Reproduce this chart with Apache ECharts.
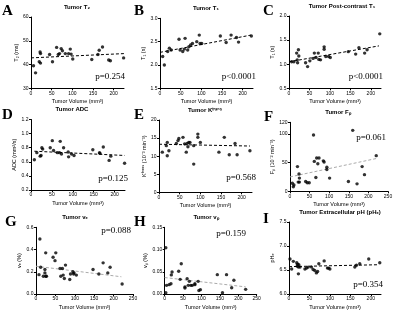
<!DOCTYPE html>
<html><head><meta charset="utf-8">
<script src="https://cdn.jsdelivr.net/npm/echarts@6/dist/echarts.min.js"></script>
<style>html,body{margin:0;padding:0;background:#fff}#c{width:400px;height:318px}</style>
</head><body><div id="c"></div>
<script>
// ---- data ----
const volA = [6,11,20,23,22,23,45,52,62,69,73,76,66,83,91,95,97,101,147,162,165,173,188,192,224];
const t2A  = [39.5,36.5,41.2,40.6,45.3,44.6,44.2,41.2,47.2,44.6,46.7,45.8,44.2,44.6,44.6,46.5,44.4,42.3,42.1,44.2,46,47.4,41.9,41.6,42.8];
const trendA = [[0,42.8],[225,44.6]];

const volB = [6.5,10.5,18.6,22.7,27,46,48.6,55,59,60.7,67,70,74,78.5,89,95,97,101,146,160,172,185,190,221];
const t1B  = [2.18,2.0,2.29,2.36,2.32,2.55,2.32,2.29,2.34,2.57,2.32,2.39,2.43,2.46,2.5,2.64,2.46,2.46,2.62,2.48,2.64,2.59,2.49,2.62];
const trendB = [[0,2.27],[220,2.64]];

const volC = [6.5,12,18.7,21,23,24,20,40.6,45.5,51,62,59,66,71.5,73,77,86,86,90,97,101,145,163,171,185,191,222];
const t1C  = [1.05,1.05,1.23,1.03,1.3,1.17,1.09,1.03,0.95,1.07,1.23,1.12,1.14,1.23,1.1,1.09,1.36,1.31,1.16,1.16,1.14,1.26,1.21,1.34,1.23,1.3,1.63];
const trendC = [[0,1.05],[220,1.38]];

const volD = [8,14,22,24,26,28,46,51,54,63,68,70,73,78,89,90,97,103,148,164,165,173,187,191,224];
const adcD = [0.63,0.73,0.68,0.69,0.8,0.78,0.8,0.9,0.76,0.73,0.73,0.89,0.71,0.8,0.74,0.67,0.71,0.69,0.77,0.73,0.72,0.81,0.62,0.68,0.58];
const trendD = [[8,0.75],[224,0.69]];

const volE = [8,17.7,20,20,24,42,46,48,58,62,66,68,70,72,75,84,84,94,94,100,145,158,170,184,189,220];
const kE   = [11.1,12.9,13.8,10.1,11.5,13.5,14.3,14.9,15.2,13.4,11.1,13.5,12.6,13.8,13.8,12.9,7.8,15.2,16.1,13.8,11.1,15.2,10.4,13.5,10.4,11.5];
const trendE = [[0,13.3],[220,12.8]];

const volF = [6,8.5,10,19,21,23,24,24,40,44,49,60,62,66,68,71,74,85,87,94,94,101,149,160,171,184,190,220];
const fpF  = [14,8,11,43,16,30,23,16,17,15,15,98,52,24,58,48,58,53,51,42,38,23,17,106,13,43,29,62];
const trendF = [[0,25],[220,57]];

const volG = [7.7,10,12,19,23,23,25,25,27,44,49,51,62,64,68,70,73,76,87,89,95,97,98,104,147,162,173,185,191,222];
const veG  = [0.174,0.495,0.24,0.16,0.22,0.19,0.16,0.37,0.16,0.33,0.30,0.37,0.23,0.16,0.23,0.17,0.14,0.26,0.13,0.18,0.2,0.18,0.19,0.17,0.22,0.18,0.28,0.19,0.24,0.09];
const trendG = [[0,0.25],[220,0.155]];

const volH = [3,3,5,12,17,18,20,38,42,45,55,55,61,64,67,71,75,82,82,91,93,97,143,157,168,182,188,220];
const vpH  = [0.003,0.104,0.0195,0.021,0.023,0.043,0.0495,0.051,0.033,0.068,0.016,0.0135,0.0345,0.0195,0.0285,0.0195,0.0195,0.023,0.021,0.0285,0.008,0.0098,0.0435,0.003,0.0435,0.014,0.031,0.0105];
const trendH = [[0,0.037],[220,0.016]];

const volI = [2.4,6.5,10.6,19,20,21,23,23,24,27,39,43,47,55,59,63,67,70,73,86,94,97,100,161,165,173,195,222];
const phI  = [6.73,6.52,6.68,6.65,6.58,6.62,6.42,6.56,6.61,6.56,6.52,6.54,6.56,6.56,6.51,6.49,6.44,6.47,6.63,6.69,6.54,6.54,6.52,6.56,6.6,6.63,6.73,6.65];
const trendI = [[0,6.57],[220,6.61]];

const pTexts = ['p=0.254','p<0.0001','p<0.0001','p=0.125','p=0.568','p=0.061','p=0.088','p=0.159','p=0.354'];
const titles = ['Tumor T₂','Tumor T₁','Tumor Post-contrast T₁','Tumor ADC','Tumor Kᵗʳᵃⁿˢ','Tumor Fₚ','Tumor vₑ','Tumor vₚ','Tumor Extracellular pH (pHₑ)'];
const yNames = ['T₂ (ms)','T₁ (s)','T₁ (s)','ADC (mm²/s)','Kᵗʳᵃⁿˢ (10⁻³ min⁻¹)','Fₚ (10⁻² min⁻¹)','vₑ (%)','vₚ (%)','pHₑ'];
const letters = ['A','B','C','D','E','F','G','H','I'];
const xName = 'Tumor Volume (mm³)';

// ---- layout ----
const P = [
 {x:volA,y:t2A,tr:trendA,g:[31,17,93,71.3],xmax:225,ymin:30,ymax:60,yi:10,dec:0,gray:0,pp:[125,81,'right'],lp:[2,11],tc:77},
 {x:volB,y:t1B,tr:trendB,g:[160,18.3,93,70],xmax:225,ymin:1.5,ymax:3.0,yi:0.5,dec:1,gray:0,pp:[256,81,'right'],lp:[134,11],tc:206},
 {x:volC,y:t1C,tr:trendC,g:[289,16,92,72.3],xmax:225,ymin:0.5,ymax:2.0,yi:0.5,dec:1,gray:0,pp:[383,81,'right'],lp:[263,11],tc:342},
 {x:volD,y:adcD,tr:trendD,g:[31,119.5,94,70.5],xmax:225,ymin:0.2,ymax:1.2,yi:0.2,dec:1,gray:0,pp:[128,183,'right'],lp:[2,115],tc:72},
 {x:volE,y:kE,tr:trendE,g:[159,120,93,72.3],xmax:225,ymin:0,ymax:20,yi:5,dec:0,gray:0,pp:[256,182,'right'],lp:[134,115],tc:205},
 {x:volF,y:fpF,tr:trendF,g:[290,122.3,98,69],xmax:250,ymin:0,ymax:120,yi:50,dec:0,gray:1,pp:[386,142,'right'],lp:[264,117],tc:338},
 {x:volG,y:veG,tr:trendG,g:[36,227.3,97,66.7],xmax:250,ymin:0,ymax:0.6,yi:0.2,dec:1,gray:1,pp:[131,235,'right'],lp:[5,222],tc:75},
 {x:volH,y:vpH,tr:trendH,g:[164.7,227.3,92,66.7],xmax:250,ymin:0,ymax:0.15,yi:0.05,dec:2,gray:1,pp:[246,238,'right'],lp:[134,222],tc:206},
 {x:volI,y:phI,tr:trendI,g:[289,222,92,72],xmax:225,ymin:6.0,ymax:7.5,yi:0.5,dec:1,gray:0,pp:[383,289,'right'],lp:[263,219],tc:340}
];

const FONT = 'Liberation Sans';
const grids=[],xAxes=[],yAxes=[],series=[],graphics=[];
P.forEach((p,i)=>{
  grids.push({left:p.g[0],top:p.g[1],width:p.g[2],height:p.g[3],containLabel:false});
  const xt=[];for(let v=0;v<=p.xmax;v+=50)xt.push(v);
  xAxes.push({gridIndex:i,type:'value',min:0,max:p.xmax,interval:50,
    axisLine:{show:true,lineStyle:{color:'#000',width:1}},
    axisTick:{show:true,length:2,customValues:xt,lineStyle:{color:'#000'}},
    axisLabel:{fontSize:5,margin:2.5,color:'#000',fontFamily:FONT,customValues:xt},
    splitLine:{show:false},
    name:xName,nameLocation:'middle',nameGap:10,nameTextStyle:{fontSize:5.5,color:'#000',fontFamily:FONT}});
  yAxes.push({gridIndex:i,type:'value',min:p.ymin,max:p.ymax,interval:p.yi,
    axisLine:{show:true,lineStyle:{color:'#000',width:1}},
    axisTick:{show:true,length:2,lineStyle:{color:'#000'}},
    axisLabel:{fontSize:5,margin:2.5,color:'#000',fontFamily:FONT,formatter:v=>v.toFixed(p.dec)},
    splitLine:{show:false},
    name:yNames[i],nameLocation:'middle',nameGap:i===4||i===5?11:(p.dec===2?15:11),nameRotate:90,
    nameTextStyle:{fontSize:5.5,color:'#000',fontFamily:FONT}});
  series.push({type:'scatter',xAxisIndex:i,yAxisIndex:i,symbol:'circle',symbolSize:3.4,
    itemStyle:{color:'#000'},data:p.x.map((v,k)=>[v,p.y[k]]),z:3});
  series.push({type:'line',xAxisIndex:i,yAxisIndex:i,symbol:'none',silent:true,
    lineStyle:{color:p.gray?'#aaa':'#000',width:1,type:[3,2]},data:p.tr,z:2});
  graphics.push({type:'text',left:p.lp[0],top:p.lp[1]-7,style:{text:letters[i],font:'bold 15px "Liberation Serif"',fill:'#000'}});
  graphics.push({type:'text',x:p.tc,y:p.g[1]-10,style:{text:titles[i],font:'bold 6px "Liberation Sans"',fill:'#000',textAlign:'center',textVerticalAlign:'middle'}});
  graphics.push({type:'text',x:p.pp[0],y:p.pp[1],style:{text:pTexts[i],font:'9px "Liberation Serif"',fill:'#000',textAlign:p.pp[2],textVerticalAlign:'bottom'}});
});

const chart = echarts.init(document.getElementById('c'),null,{renderer:'canvas'});
chart.setOption({animation:false,grid:grids,xAxis:xAxes,yAxis:yAxes,series:series,graphic:graphics});
</script></body></html>
